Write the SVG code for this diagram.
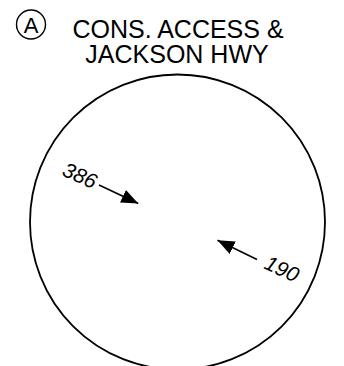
<svg xmlns="http://www.w3.org/2000/svg" width="344" height="366" viewBox="0 0 344 366">
<style>
.t{font-family:"Liberation Sans",Arial,sans-serif;fill:#000}
.ln{stroke:#000;stroke-width:1.6;fill:none}
.lbl{font-family:"Liberation Sans",Arial,sans-serif;font-size:21px;font-style:italic;fill:#000}
</style>
<defs>
<marker id="ah" markerWidth="17" markerHeight="14" refX="17" refY="7" orient="auto" markerUnits="userSpaceOnUse">
<path d="M0,0 L17,7 L0,14 Z" fill="#000"/>
</marker>
</defs>
<g id="title">
<circle cx="31" cy="24.5" r="14.5" fill="none" stroke="#000" stroke-width="1.4"/>
<text class="t" x="31" y="32.5" font-size="22" text-anchor="middle">A</text>
<text class="t" x="178" y="37.7" font-size="25" text-anchor="middle">CONS. ACCESS &amp;</text>
<text class="t" x="177" y="63.3" font-size="25" text-anchor="middle">JACKSON HWY</text>
</g>
<g id="intersection">
<circle cx="177.5" cy="222" r="147.5" fill="none" stroke="#000" stroke-width="1.8"/>
</g>
<g id="connectors">
<line class="ln" x1="99" y1="185" x2="138.3" y2="203.5" marker-end="url(#ah)"/>
<line class="ln" x1="257" y1="259.5" x2="217.5" y2="240.3" marker-end="url(#ah)"/>
</g>
<g id="label386">
<text class="lbl" transform="translate(61,175) rotate(24)">386</text>
</g>
<g id="label190">
<text class="lbl" transform="translate(263,268) rotate(25)">190</text>
</g>
</svg>
